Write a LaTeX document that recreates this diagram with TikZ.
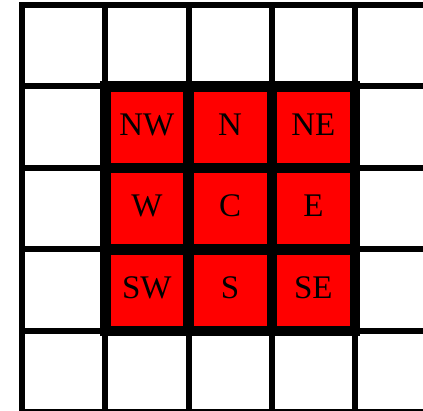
\documentclass[tikz,border=0pt]{standalone}
\usepackage{fontspec}
\setmainfont{Liberation Serif}
\begin{document}
\begin{tikzpicture}[x=1pt,y=-1pt,
  gridline/.style={line width=6pt,line cap=rect},
  cell/.style={rectangle,draw=black,fill=red,line width=10.5pt,
    minimum width=83.25pt,minimum height=81.5pt,inner sep=0pt,outer sep=0pt,
    text depth=6pt,font=\fontsize{33}{33}\selectfont}]
\useasboundingbox (0,0) rectangle (423,411);
\begin{scope}
\clip (0,0) rectangle (423,411);
\foreach \gx in {22,105.25,188.5,271.75,355}
  \draw[gridline] (\gx,5) -- (\gx,430);
\foreach \gy in {5,86.5,168,249.5,331,412.5}
  \draw[gridline] (22,\gy) -- (440,\gy);
\end{scope}
\node[cell] (nw) at (146.875,127.25) {NW};
\node[cell] (n)  at (230.125,127.25) {N};
\node[cell] (ne) at (313.375,127.25) {NE};
\node[cell] (w)  at (146.875,208.75) {W};
\node[cell] (c)  at (230.125,208.75) {C};
\node[cell] (e)  at (313.375,208.75) {E};
\node[cell] (sw) at (146.875,290.25) {SW};
\node[cell] (s)  at (230.125,290.25) {S};
\node[cell] (se) at (313.375,290.25) {SE};
\end{tikzpicture}
\end{document}
